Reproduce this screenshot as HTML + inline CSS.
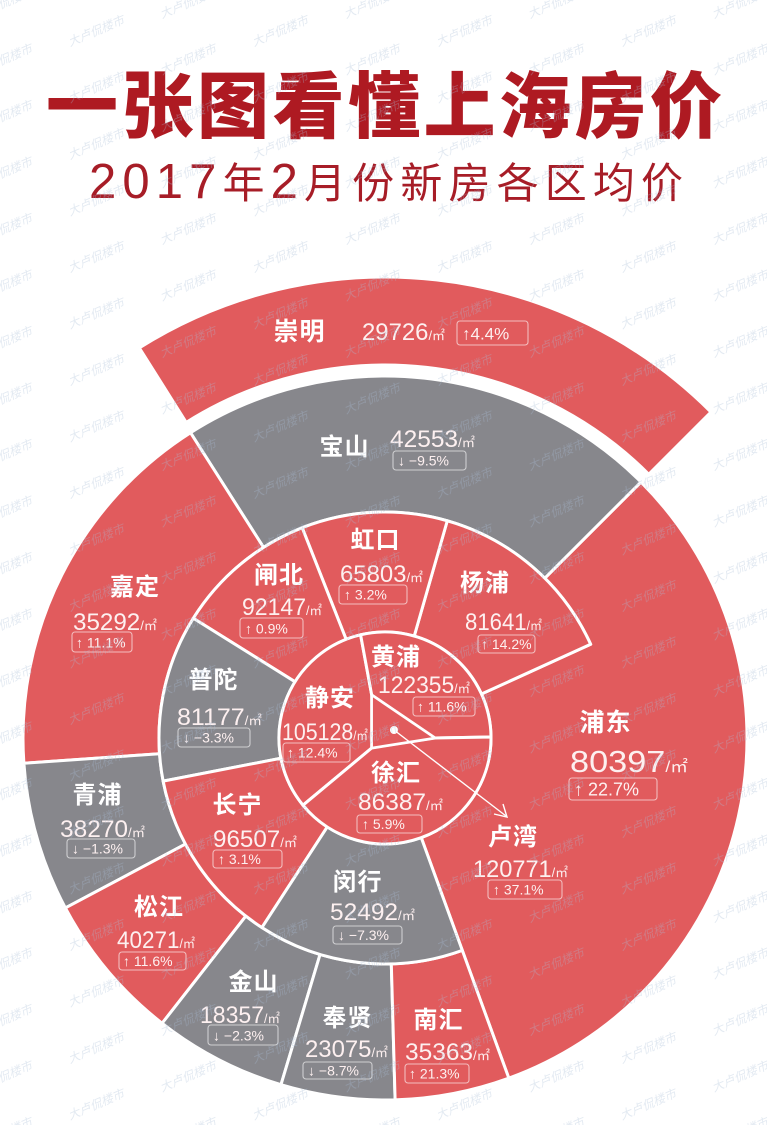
<!DOCTYPE html>
<html><head><meta charset="utf-8"><style>
html,body{margin:0;padding:0;background:#fff;}
svg{display:block;}
.nm{font-family:"Liberation Sans","Noto Sans CJK SC",sans-serif;font-weight:bold;fill:#fff;font-size:24px;text-anchor:middle;letter-spacing:1px;}
.n{font-family:"Liberation Sans","Noto Sans CJK SC",sans-serif;fill:#fdf0f0;font-size:24px;}
.u{font-size:13px;}
.b{font-family:"Liberation Sans","DejaVu Sans","Noto Sans CJK SC",sans-serif;fill:#fdf0f0;font-size:14px;}
.bx{fill:none;stroke:rgba(255,255,255,0.6);stroke-width:1.1;}
.r{fill:#e15b5d;}
.g{fill:#87878c;}
.sec path{stroke:#fff;stroke-width:3;stroke-linejoin:round;}
.wm{font-family:"Liberation Sans","Noto Sans CJK SC",sans-serif;font-size:12px;font-style:italic;fill:#a9bdd6;}
</style></head><body>
<svg width="767" height="1125" viewBox="0 0 767 1125" xmlns="http://www.w3.org/2000/svg">
<defs>
<pattern id="wmp" patternUnits="userSpaceOnUse" x="70" y="216" width="184" height="56.5">
<text class="wm" x="0" y="56.5" transform="rotate(-23 0 56.5)">大卢侃楼市</text>
<text class="wm" x="0" y="0" transform="rotate(-23 0 0)">大卢侃楼市</text>
<text class="wm" x="92" y="28.5" transform="rotate(-23 92 28.5)">大卢侃楼市</text>
<text class="wm" x="92" y="85" transform="rotate(-23 92 85)">大卢侃楼市</text>
</pattern>
</defs>
<rect width="767" height="1125" fill="#fff"/>

<!-- Title -->
<text x="46" y="132" textLength="676" lengthAdjust="spacing" style="font-family:'Liberation Sans','Noto Sans CJK SC',sans-serif;font-weight:900;font-size:72px;fill:#ae1a22;">一张图看懂上海房价</text>
<text x="89" y="198" textLength="594" lengthAdjust="spacing" style="font-family:'Liberation Sans','Noto Sans CJK SC',sans-serif;font-size:42px;fill:#a71d27;"><tspan style="font-size:49px">2017</tspan>年<tspan style="font-size:49px">2</tspan>月份新房各区均价</text>

<g class="sec">
<path class="r" d="M 139.34 347.91 A 461 461 0 0 1 710.98 412.02 L 648.75 474.25 A 373 373 0 0 0 186.24 422.37 Z"/>
<path class="r" d="M 508.81 1078.17 A 362 362 0 0 0 640.97 482.03 L 544.81 578.19 A 226 226 0 0 1 590.65 644.28 L 481.46 694.04 A 106 106 0 0 1 421.25 837.61 Z"/>
<path class="g" d="M 640.97 482.03 A 362 362 0 0 0 190.50 432.69 L 263.57 547.39 A 226 226 0 0 1 544.81 578.19 Z"/>
<path class="r" d="M 190.50 432.69 A 362 362 0 0 0 23.88 763.25 L 159.55 753.77 A 226 226 0 0 1 263.57 547.39 Z"/>
<path class="g" d="M 23.88 763.25 A 362 362 0 0 0 65.37 907.95 L 185.45 844.10 A 226 226 0 0 1 159.55 753.77 Z"/>
<path class="r" d="M 65.37 907.95 A 362 362 0 0 0 162.13 1023.26 L 245.86 916.09 A 226 226 0 0 1 185.45 844.10 Z"/>
<path class="g" d="M 162.13 1023.26 A 362 362 0 0 0 280.98 1084.73 L 320.06 954.47 A 226 226 0 0 1 245.86 916.09 Z"/>
<path class="g" d="M 280.98 1084.73 A 362 362 0 0 0 395.11 1099.86 L 391.31 963.91 A 226 226 0 0 1 320.06 954.47 Z"/>
<path class="r" d="M 395.11 1099.86 A 362 362 0 0 0 508.81 1078.17 L 462.30 950.37 A 226 226 0 0 1 391.31 963.91 Z"/>
<path class="r" d="M 590.65 644.28 A 226 226 0 0 0 447.29 520.76 L 414.22 636.11 A 106 106 0 0 1 481.46 694.04 Z"/>
<path class="r" d="M 447.29 520.76 A 226 226 0 0 0 302.17 527.73 L 346.15 639.38 A 106 106 0 0 1 414.22 636.11 Z"/>
<path class="r" d="M 302.17 527.73 A 226 226 0 0 0 193.34 618.24 L 295.11 681.83 A 106 106 0 0 1 346.15 639.38 Z"/>
<path class="g" d="M 193.34 618.24 A 226 226 0 0 0 163.15 781.12 L 280.95 758.23 A 106 106 0 0 1 295.11 681.83 Z"/>
<path class="r" d="M 163.15 781.12 A 226 226 0 0 0 261.91 927.54 L 327.27 826.90 A 106 106 0 0 1 280.95 758.23 Z"/>
<path class="g" d="M 261.91 927.54 A 226 226 0 0 0 462.30 950.37 L 421.25 837.61 A 106 106 0 0 1 327.27 826.90 Z"/>
<path class="r" d="M 360.6 634.8 A 106 106 0 0 0 303 805.2 L 371.7 748 L 371.7 695 Z"/>
<path class="r" d="M 360.6 634.8 A 106 106 0 0 1 491 737 L 435 738 L 371.7 695 Z"/>
<path class="r" d="M 491 737 A 106 106 0 0 1 303 805.2 L 371.7 748 L 435 738 Z"/>
<path class="r" style="stroke-width:2.5" d="M 371.7 695 L 435 738 L 371.7 748 Z"/>
</g>

<line x1="394" y1="730" x2="506" y2="816" stroke="#fff" stroke-width="1.4"/>
<polyline points="494,814 507,817 503,804" fill="none" stroke="#fff" stroke-width="1.4"/>
<circle cx="394" cy="730" r="4" fill="#fff"/>

<text class="nm" x="299.5" y="340" style="font-size:25px">崇明</text>
<text class="nm" x="344.5" y="455">宝山</text>
<text class="nm" x="135" y="595">嘉定</text>
<text class="nm" x="213.5" y="688">普陀</text>
<text class="nm" x="279" y="583">闸北</text>
<text class="nm" x="375.5" y="548">虹口</text>
<text class="nm" x="485" y="591">杨浦</text>
<text class="nm" x="396" y="665">黄浦</text>
<text class="nm" x="330" y="706">静安</text>
<text class="nm" x="396" y="781">徐汇</text>
<text class="nm" x="605.5" y="731" style="font-size:25px">浦东</text>
<text class="nm" x="513" y="845">卢湾</text>
<text class="nm" x="97.5" y="803">青浦</text>
<text class="nm" x="237.5" y="813">长宁</text>
<text class="nm" x="159" y="915">松江</text>
<text class="nm" x="357.5" y="890">闵行</text>
<text class="nm" x="253.5" y="990">金山</text>
<text class="nm" x="347.5" y="1026">奉贤</text>
<text class="nm" x="438.5" y="1028">南汇</text>

<text class="n" x="362" y="340" textLength="83" lengthAdjust="spacingAndGlyphs">29726<tspan class="u">/㎡</tspan></text>
<text class="n" x="390" y="447" textLength="85" lengthAdjust="spacingAndGlyphs">42553<tspan class="u">/㎡</tspan></text>
<text class="n" x="73" y="630" textLength="84" lengthAdjust="spacingAndGlyphs">35292<tspan class="u">/㎡</tspan></text>
<text class="n" x="177" y="725" textLength="85" lengthAdjust="spacingAndGlyphs">81177<tspan class="u">/㎡</tspan></text>
<text class="n" x="242" y="615" textLength="80" lengthAdjust="spacingAndGlyphs">92147<tspan class="u">/㎡</tspan></text>
<text class="n" x="340" y="582" textLength="83" lengthAdjust="spacingAndGlyphs">65803<tspan class="u">/㎡</tspan></text>
<text class="n" x="465" y="630" textLength="77" lengthAdjust="spacingAndGlyphs">81641<tspan class="u">/㎡</tspan></text>
<text class="n" x="378" y="693" textLength="92" lengthAdjust="spacingAndGlyphs">122355<tspan class="u">/㎡</tspan></text>
<text class="n" x="282" y="740" textLength="86" lengthAdjust="spacingAndGlyphs">105128<tspan class="u">/㎡</tspan></text>
<text class="n" x="358" y="810" textLength="85" lengthAdjust="spacingAndGlyphs">86387<tspan class="u">/㎡</tspan></text>
<text class="n" x="570" y="772" textLength="118" lengthAdjust="spacingAndGlyphs" style="font-size:31px">80397<tspan class="u" style="font-size:16px">/㎡</tspan></text>
<text class="n" x="473" y="877" textLength="95" lengthAdjust="spacingAndGlyphs">120771<tspan class="u">/㎡</tspan></text>
<text class="n" x="60" y="837" textLength="85" lengthAdjust="spacingAndGlyphs">38270<tspan class="u">/㎡</tspan></text>
<text class="n" x="213" y="847" textLength="84" lengthAdjust="spacingAndGlyphs">96507<tspan class="u">/㎡</tspan></text>
<text class="n" x="117" y="948" textLength="78" lengthAdjust="spacingAndGlyphs">40271<tspan class="u">/㎡</tspan></text>
<text class="n" x="330" y="920" textLength="85" lengthAdjust="spacingAndGlyphs">52492<tspan class="u">/㎡</tspan></text>
<text class="n" x="200" y="1023" textLength="80" lengthAdjust="spacingAndGlyphs">18357<tspan class="u">/㎡</tspan></text>
<text class="n" x="305" y="1057" textLength="83" lengthAdjust="spacingAndGlyphs">23075<tspan class="u">/㎡</tspan></text>
<text class="n" x="405" y="1060" textLength="85" lengthAdjust="spacingAndGlyphs">35363<tspan class="u">/㎡</tspan></text>

<rect class="bx" x="457" y="321" width="71" height="24" rx="3"/><text class="b" x="462" y="339.5" style="font-size:17px">↑4.4%</text>
<rect class="bx" x="393" y="451" width="73" height="19" rx="3"/><text class="b" x="398" y="465.5">↓ −9.5%</text>
<rect class="bx" x="72" y="632" width="60" height="20" rx="3"/><text class="b" x="76" y="647.5">↑ 11.1%</text>
<rect class="bx" x="178" y="728" width="72" height="19" rx="3"/><text class="b" x="183" y="742.5">↓ −3.3%</text>
<rect class="bx" x="240" y="618" width="63" height="20" rx="3"/><text class="b" x="245" y="633.5">↑ 0.9%</text>
<rect class="bx" x="339" y="585" width="68" height="19" rx="3"/><text class="b" x="344" y="599.5">↑ 3.2%</text>
<rect class="bx" x="478" y="635" width="57" height="18" rx="3"/><text class="b" x="481" y="649">↑ 14.2%</text>
<rect class="bx" x="413" y="697" width="62" height="19" rx="3"/><text class="b" x="417" y="711.5">↑ 11.6%</text>
<rect class="bx" x="283" y="743" width="67" height="19" rx="3"/><text class="b" x="287" y="757.5">↑ 12.4%</text>
<rect class="bx" x="357" y="815" width="65" height="18" rx="3"/><text class="b" x="362" y="829">↑ 5.9%</text>
<rect class="bx" x="569" y="778" width="88" height="22" rx="3"/><text class="b" x="574" y="795.5" style="font-size:18px">↑ 22.7%</text>
<rect class="bx" x="488" y="880" width="74" height="19" rx="3"/><text class="b" x="493" y="894.5">↑ 37.1%</text>
<rect class="bx" x="67" y="839" width="68" height="19" rx="3"/><text class="b" x="72" y="853.5">↓ −1.3%</text>
<rect class="bx" x="213" y="850" width="69" height="18" rx="3"/><text class="b" x="218" y="864">↑ 3.1%</text>
<rect class="bx" x="119" y="952" width="67" height="18" rx="3"/><text class="b" x="123" y="966">↑ 11.6%</text>
<rect class="bx" x="333" y="926" width="69" height="18" rx="3"/><text class="b" x="338" y="940">↓ −7.3%</text>
<rect class="bx" x="208" y="1025" width="70" height="20" rx="3"/><text class="b" x="213" y="1040.5">↓ −2.3%</text>
<rect class="bx" x="303" y="1062" width="69" height="17" rx="3"/><text class="b" x="308" y="1075.5">↓ −8.7%</text>
<rect class="bx" x="405" y="1064" width="64" height="19" rx="3"/><text class="b" x="409" y="1078.5">↑ 21.3%</text>

<rect width="767" height="1125" fill="url(#wmp)" opacity="0.32"/>
</svg>
</body></html>
